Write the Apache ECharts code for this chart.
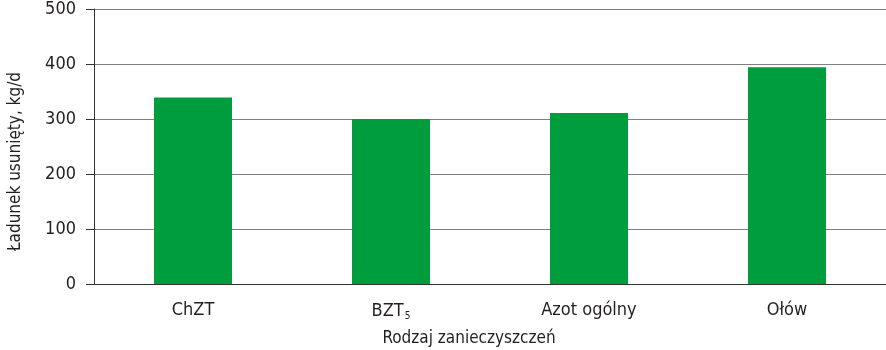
<!DOCTYPE html>
<html><head><meta charset="utf-8">
<script src="https://cdn.jsdelivr.net/npm/echarts@6/dist/echarts.min.js"></script>
<style>html,body{margin:0;padding:0;background:#fff}#c{width:886px;height:350px}</style>
</head><body><div id="c"></div>
<script>
const categories = ['ChZT', 'BZT5', 'Azot ogólny', 'Ołów'];
const values = [339, 300, 311, 394];
const yTicks = [0, 100, 200, 300, 400, 500];
const yAxisTitle = 'Ładunek usunięty, kg/d';
const xAxisTitle = 'Rodzaj zanieczyszczeń';

const FONT = '"Liberation Sans Narrow", "DejaVu Sans Condensed", "Liberation Sans", sans-serif';
const TXT = '#231f20';
const chart = echarts.init(document.getElementById('c'));
chart.setOption({
  animation: false,
  grid: {left: 94, right: 0, top: 9, bottom: 66, containLabel: false, outerBoundsMode: 'none'},
  xAxis: {
    type: 'category', data: categories,
    axisLine: {lineStyle: {color: '#333', width: 1}},
    axisTick: {show: false},
    axisLabel: {
      color: TXT, fontFamily: FONT, fontSize: 18, margin: 17,
      formatter: v => v === 'BZT5' ? 'BZT{sub|5}' : v,
      rich: {sub: {fontSize: 10, fontFamily: FONT, color: TXT, verticalAlign: 'bottom', padding: [10, 0, 0, 1]}}
    },
    name: xAxisTitle, nameLocation: 'middle', nameGap: 46,
    nameTextStyle: {color: TXT, fontFamily: FONT, fontSize: 17, padding: [0, 42, 0, 0]}
  },
  yAxis: {
    type: 'value', min: yTicks[0], max: yTicks[yTicks.length - 1], interval: 100,
    axisLine: {show: true, lineStyle: {color: '#333', width: 1}},
    axisTick: {show: true, length: 8, lineStyle: {color: '#333'}},
    splitLine: {lineStyle: {color: '#7f7f7f', width: 1}},
    axisLabel: {color: TXT, fontFamily: FONT, fontSize: 18, margin: 18},
    name: yAxisTitle, nameLocation: 'middle', nameGap: 70, nameRotate: 90,
    nameTextStyle: {color: TXT, fontFamily: FONT, fontSize: 17, padding: [0, 30, 0, 0]}
  },
  series: [{
    type: 'bar', data: values, barWidth: 78,
    itemStyle: {color: '#009d3e'}
  }]
});
</script></body></html>
